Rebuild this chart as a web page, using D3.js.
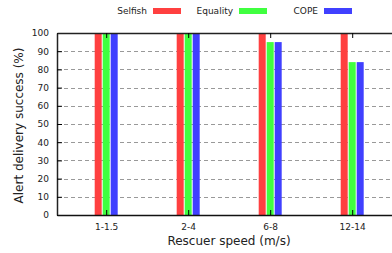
<!DOCTYPE html>
<html>
<head>
<meta charset="utf-8">
<script src="https://cdn.jsdelivr.net/npm/d3@7"></script>
<style>
  body { margin: 0; background: #fff; }
  svg { display: block; font-family: "DejaVu Sans", sans-serif; }
</style>
</head>
<body>
<div id="chart"></div>
<script>
const width = 392;
const height = 253;

const categories = ["1-1.5", "2-4", "6-8", "12-14"];
const seriesNames = ["Selfish", "Equality", "COPE"];
const selfish = [100, 100, 100, 100];
const equality = [100, 100, 95, 84];
const cope = [100, 100, 95, 84];
const yTicks = [0, 10, 20, 30, 40, 50, 60, 70, 80, 90, 100];
const colors = ["#ff4040", "#40ff40", "#4040ff"];

const values = [selfish, equality, cope];

const plotLeft = 57, plotTop = 33, plotBottom = 215;

const svg = d3.select("#chart")
  .append("svg")
  .attr("width", width)
  .attr("height", height);

// x positions: category index, gnuplot style range with half-gap margins
const xScale = d3.scaleLinear()
  .domain([-0.6, 3.6])
  .range([plotLeft, plotLeft + 4.2 * 82]);

const subScale = d3.scaleBand()
  .domain(seriesNames)
  .range([-11.5, 11.5])
  .paddingInner(0.125);

const yScale = d3.scaleLinear()
  .domain([0, 100])
  .range([plotBottom, plotTop]);

const colorScale = d3.scaleOrdinal()
  .domain(seriesNames)
  .range(colors);

// grid
svg.append("g")
  .selectAll("line")
  .data(yTicks.filter(d => d > 0 && d < 100))
  .join("line")
  .attr("x1", plotLeft)
  .attr("x2", width)
  .attr("y1", d => Math.round(yScale(d)) + 0.5)
  .attr("y2", d => Math.round(yScale(d)) + 0.5)
  .attr("stroke", "#999")
  .attr("stroke-dasharray", "4,3");

// bars
const rows = [];
seriesNames.forEach((s, si) => {
  categories.forEach((c, ci) => {
    rows.push({ series: s, index: ci, value: values[si][ci] });
  });
});

svg.append("g")
  .selectAll("rect")
  .data(rows)
  .join("rect")
  .attr("x", d => xScale(d.index) + subScale(d.series))
  .attr("width", subScale.bandwidth())
  .attr("y", d => yScale(d.value))
  .attr("height", d => yScale(0) - yScale(d.value))
  .attr("fill", d => colorScale(d.series));

// y axis
const yAxis = d3.axisLeft(yScale)
  .tickValues(yTicks)
  .tickSize(-5)
  .tickPadding(8)
  .tickSizeOuter(0);

const yG = svg.append("g")
  .attr("transform", `translate(${plotLeft}, 0)`)
  .call(yAxis);
yG.select(".domain").attr("stroke", "#222").attr("stroke-width", 1.5);
yG.selectAll("text").attr("font-size", 9).attr("fill", "#222").attr("font-family", "DejaVu Sans");

// x axis bottom
const xAxis = d3.axisBottom(xScale)
  .tickValues(d3.range(categories.length))
  .tickFormat(i => categories[i])
  .tickSize(-5)
  .tickPadding(9)
  .tickSizeOuter(0);

const xG = svg.append("g")
  .attr("transform", `translate(0, ${plotBottom})`)
  .call(xAxis);
xG.select(".domain").attr("stroke", "#111").attr("stroke-width", 1.5);
xG.selectAll("text").attr("font-size", 9).attr("fill", "#222").attr("font-family", "DejaVu Sans");

// top border with mirrored ticks
const xTop = d3.axisTop(xScale)
  .tickValues(d3.range(categories.length))
  .tickFormat("")
  .tickSize(-5)
  .tickSizeOuter(0);

const tG = svg.append("g")
  .attr("transform", `translate(0, ${plotTop})`)
  .call(xTop);
tG.select(".domain").attr("stroke", "#222").attr("stroke-width", 1.5);

// axis titles
svg.append("text")
  .attr("x", 229)
  .attr("y", 245)
  .attr("text-anchor", "middle")
  .attr("font-size", 12)
  .attr("fill", "#222")
  .text("Rescuer speed (m/s)");

svg.append("text")
  .attr("transform", "translate(23, 125.5) rotate(-90)")
  .attr("text-anchor", "middle")
  .attr("font-size", 12)
  .attr("fill", "#222")
  .text("Alert delivery success (%)");

// legend
const legendX = [153, 239, 324];
const legend = svg.append("g")
  .selectAll("g")
  .data(seriesNames)
  .join("g")
  .attr("transform", (d, i) => `translate(${legendX[i]}, 8)`);

legend.append("rect")
  .attr("width", 28)
  .attr("height", 6)
  .attr("fill", d => colorScale(d));

legend.append("text")
  .attr("x", -6)
  .attr("y", 6)
  .attr("text-anchor", "end")
  .attr("font-size", 9)
  .attr("fill", "#222")
  .text(d => d);
</script>
</body>
</html>
